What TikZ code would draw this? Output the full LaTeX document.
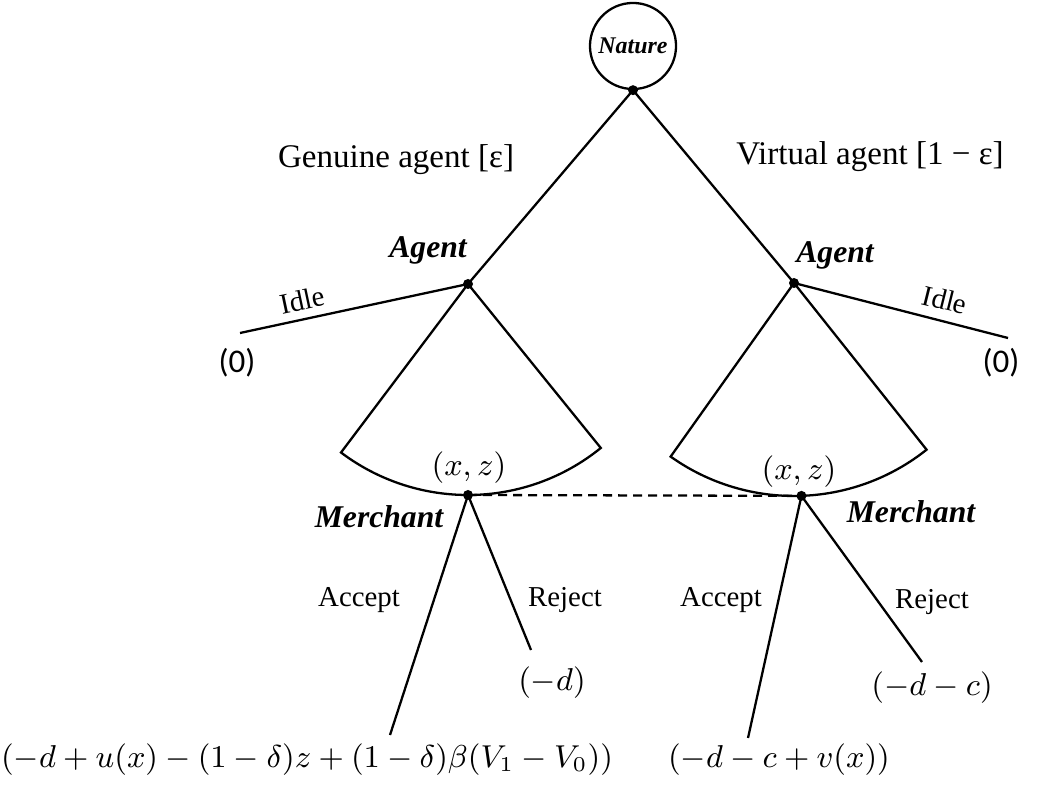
\documentclass[tikz,border=0pt]{standalone}
\usepackage{amsmath}
\usepackage{fontspec}
\setmainfont{Liberation Serif}
\newfontfamily\calfont{Carlito}
\usetikzlibrary{calc}

\begin{document}
\begin{tikzpicture}[x=0.01cm, y=0.01cm, line width=0.65pt,
    dot/.style={circle, fill, inner sep=0pt, minimum size=1mm},
    player/.style={font=\fontsize{9}{11}\selectfont\bfseries\itshape},
    chance/.style={font=\fontsize{9.4}{11}\selectfont},
    move/.style={font=\fontsize{8.2}{10}\selectfont},
    payoff/.style={font=\fontsize{9.2}{11}\selectfont}]
    \useasboundingbox (0,0) rectangle (1037,788);
    % nature and agents
    \node[draw, circle, minimum size=0.86cm, inner sep=0pt,
        font=\fontsize{6.8}{8}\selectfont\bfseries\itshape] (nature) at (633,742) {Nature};
    \node[dot] (root) at (nature.south) {};
    \node[dot] (agL) at (468,504) {};
    \node[dot] (agR) at (794,505) {};
    \draw (root.center) -- (agL.center);
    \draw (root.center) -- (agR.center);
    \node[chance] (genuine) at (396,628) {Genuine agent [ε]};
    \node[chance] (virtual) at (870,631) {Virtual agent [1 − ε]};
    \node[player] (agentL) at (428,538) {Agent};
    \node[player] (agentR) at (835,533) {Agent};
    % idle
    \coordinate (idleL) at (240,455);
    \coordinate (idleR) at (1008,450);
    \draw (agL.center) -- (idleL);
    \draw (agR.center) -- (idleR);
    \node[move, rotate=12] (idleLtxt) at (302,488) {Idle};
    \node[move, rotate=-14] (idleRtxt) at (945,488) {Idle};
    \node[font=\fontsize{9.4}{11}\selectfont\calfont] (zeroL) at (237,425) {(0)};
    \node[font=\fontsize{9.4}{11}\selectfont\calfont] (zeroR) at (1001,425) {(0)};
    % offer fans
    \draw (agL.center) -- ++(233:211) arc[start angle=233, end angle=309, radius=211] -- (agL.center);
    \draw (agR.center) -- ++(234.6:213) arc[start angle=234.6, end angle=308.5, radius=213] -- (agR.center);
    \node[dot] (mL) at ($(agL)+(270:211)$) {};
    \node[dot] (mR) at ($(agR)+(272:213)$) {};
    \draw[dashed, dash pattern=on 0.09cm off 0.06cm] (mL.center) -- (mR.center);
    \node[payoff] (offerL) at (469,320) {$(x,z)$};
    \node[payoff] (offerR) at (799,316) {$(x,z)$};
    \node[player] (merchL) at (379,271) {Merchant};
    \node[player] (merchR) at (911,276) {Merchant};
    % merchant responses
    \coordinate (accL) at (390,53);
    \coordinate (rejL) at (531,138);
    \coordinate (accR) at (748,50);
    \coordinate (rejR) at (922,126);
    \draw (mL.center) -- (accL);
    \draw (mL.center) -- (rejL);
    \draw (mR.center) -- (accR);
    \draw (mR.center) -- (rejR);
    \node[move] (accLtxt) at (359,188) {Accept};
    \node[move] (rejLtxt) at (565,188) {Reject};
    \node[move] (accRtxt) at (721,188) {Accept};
    \node[move] (rejRtxt) at (932,186) {Reject};
    \node[payoff] (payRejL) at (552,105) {$(-d)$};
    \node[payoff] (payRejR) at (932,100) {$(-d-c)$};
    \node[payoff] (payAccL) at (307,28) {$(-d+u(x)-(1-\delta)z+(1-\delta)\beta(V_1-V_0))$};
    \node[payoff] (payAccR) at (779,28) {$(-d-c+v(x))$};
\end{tikzpicture}
\end{document}
